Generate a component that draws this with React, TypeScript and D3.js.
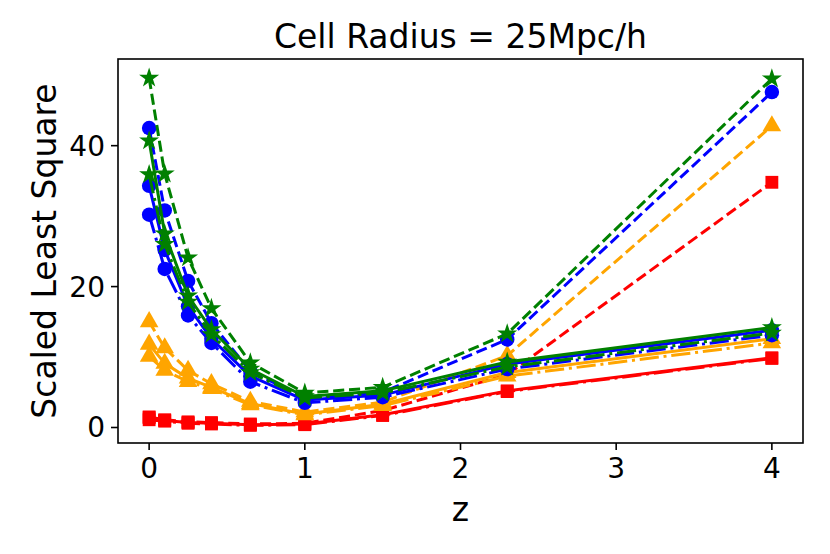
// @ts-nocheck
import { useEffect, useRef } from 'react';
import * as d3 from 'd3';

const zValues = [0, 0.1, 0.25, 0.4, 0.65, 1, 1.5, 2.3, 4];

const redDashed = [1.5, 1.1, 0.8, 0.7, 0.5, 0.6, 2.4, 7.5, 34.8];
const redSolid = [1.4, 1.0, 0.7, 0.6, 0.4, 0.5, 1.8, 5.2, 9.9];
const redDashDot = [1.1, 0.9, 0.6, 0.5, 0.3, 0.4, 1.7, 5.1, 9.8];
const orangeDashed = [15.0, 11.3, 8.1, 6.2, 3.7, 2.2, 3.6, 10.2, 42.8];
const orangeSolid = [11.8, 9.1, 7.0, 5.7, 3.4, 1.9, 3.3, 7.8, 12.6];
const orangeDashDot = [10.1, 8.1, 6.5, 5.5, 3.2, 1.8, 3.1, 7.3, 12.0];
const blueDashed = [42.5, 30.8, 20.8, 14.8, 8.0, 4.2, 5.0, 12.5, 47.6];
const blueSolid = [34.3, 25.2, 17.2, 12.6, 7.3, 3.9, 4.6, 9.0, 13.8];
const blueDashDot = [30.2, 22.5, 15.9, 12.0, 6.5, 3.5, 4.3, 8.3, 13.1];
const greenDashed = [49.6, 36.0, 24.1, 16.9, 9.2, 4.9, 5.7, 13.3, 49.5];
const greenSolid = [40.7, 27.5, 18.7, 13.9, 8.3, 4.4, 5.2, 9.3, 14.2];
const greenDashDot = [35.9, 26.0, 17.8, 13.2, 7.8, 4.2, 4.9, 8.6, 13.4];

const xTicks = [0, 1, 2, 3, 4];
const yTicks = [0, 20, 40];

const series = [
  { values: redSolid, color: 'red', marker: 'square', style: 'solid' },
  { values: redDashed, color: 'red', marker: 'square', style: 'dashed' },
  { values: redDashDot, color: 'red', marker: 'square', style: 'dashdot' },
  { values: orangeSolid, color: 'orange', marker: 'triangle', style: 'solid' },
  { values: orangeDashed, color: 'orange', marker: 'triangle', style: 'dashed' },
  { values: orangeDashDot, color: 'orange', marker: 'triangle', style: 'dashdot' },
  { values: blueSolid, color: 'blue', marker: 'circle', style: 'solid' },
  { values: blueDashed, color: 'blue', marker: 'circle', style: 'dashed' },
  { values: blueDashDot, color: 'blue', marker: 'circle', style: 'dashdot' },
  { values: greenSolid, color: 'green', marker: 'star', style: 'solid' },
  { values: greenDashed, color: 'green', marker: 'star', style: 'dashed' },
  { values: greenDashDot, color: 'green', marker: 'star', style: 'dashdot' }
];

const App = () => {
  const svgRef = useRef();

  useEffect(() => {
    document.body.style.margin = '0';
    const svg = d3.select(svgRef.current);
    svg.selectAll('*').remove();

    const font = 'DejaVu Sans, sans-serif';
    const left = 118, right = 803, top = 59, bottom = 443;

    const x = d3.scaleLinear().domain([-0.2, 4.2]).range([left, right]);
    const y = d3.scaleLinear().domain([-2.2, 52.3]).range([bottom, top]);

    const plot = svg.append('g');

    const dashes = { solid: null, dashed: '11.1,4.8', dashdot: '19.2,4.8,3,4.8' };
    const symbols = {
      square: d3.symbol(d3.symbolSquare, 165),
      circle: d3.symbol(d3.symbolCircle, 165),
      triangle: d3.symbol(d3.symbolTriangle, 150),
      star: d3.symbol(d3.symbolStar, 125)
    };

    const line = d3.line()
      .x((d, i) => x(zValues[i]))
      .y(d => y(d));

    series.forEach(s => {
      const g = plot.append('g');
      g.append('path')
        .attr('d', line(s.values))
        .attr('fill', 'none')
        .attr('stroke', s.color)
        .attr('stroke-width', 3)
        .attr('stroke-dasharray', dashes[s.style])
        .attr('stroke-linejoin', 'round');
      g.selectAll('path.m')
        .data(s.values)
        .enter()
        .append('path')
        .attr('class', 'm')
        .attr('d', symbols[s.marker]())
        .attr('transform', (d, i) => `translate(${x(zValues[i])},${y(d)})`)
        .attr('fill', s.color);
    });

    // Frame
    svg.append('rect')
      .attr('x', left).attr('y', top)
      .attr('width', right - left).attr('height', bottom - top)
      .attr('fill', 'none')
      .attr('stroke', 'black')
      .attr('stroke-width', 1.6);

    // X axis ticks
    xTicks.forEach(t => {
      svg.append('line')
        .attr('x1', x(t)).attr('x2', x(t))
        .attr('y1', bottom).attr('y2', bottom + 7)
        .attr('stroke', 'black').attr('stroke-width', 1.6);
      svg.append('text')
        .attr('x', x(t)).attr('y', bottom + 35)
        .attr('text-anchor', 'middle')
        .style('font-family', font).style('font-size', '28px')
        .text(t);
    });

    // Y axis ticks
    yTicks.forEach(t => {
      svg.append('line')
        .attr('x1', left - 7).attr('x2', left)
        .attr('y1', y(t)).attr('y2', y(t))
        .attr('stroke', 'black').attr('stroke-width', 1.6);
      svg.append('text')
        .attr('x', left - 13).attr('y', y(t) + 10)
        .attr('text-anchor', 'end')
        .style('font-family', font).style('font-size', '28px')
        .text(t);
    });

    // Labels
    svg.append('text')
      .attr('x', (left + right) / 2).attr('y', 48)
      .attr('text-anchor', 'middle')
      .style('font-family', font).style('font-size', '33px')
      .text('Cell Radius = 25Mpc/h');

    svg.append('text')
      .attr('x', (left + right) / 2).attr('y', 521)
      .attr('text-anchor', 'middle')
      .style('font-family', font).style('font-size', '33px')
      .text('z');

    svg.append('text')
      .attr('transform', `translate(56,${(top + bottom) / 2}) rotate(-90)`)
      .attr('text-anchor', 'middle')
      .style('font-family', font).style('font-size', '33px')
      .text('Scaled Least Square');
  }, []);

  return (
    <svg
      ref={svgRef}
      width={830}
      height={554}
      style={{ position: 'absolute', left: 0, top: 0, background: 'white' }}
    />
  );
};

export default App;
